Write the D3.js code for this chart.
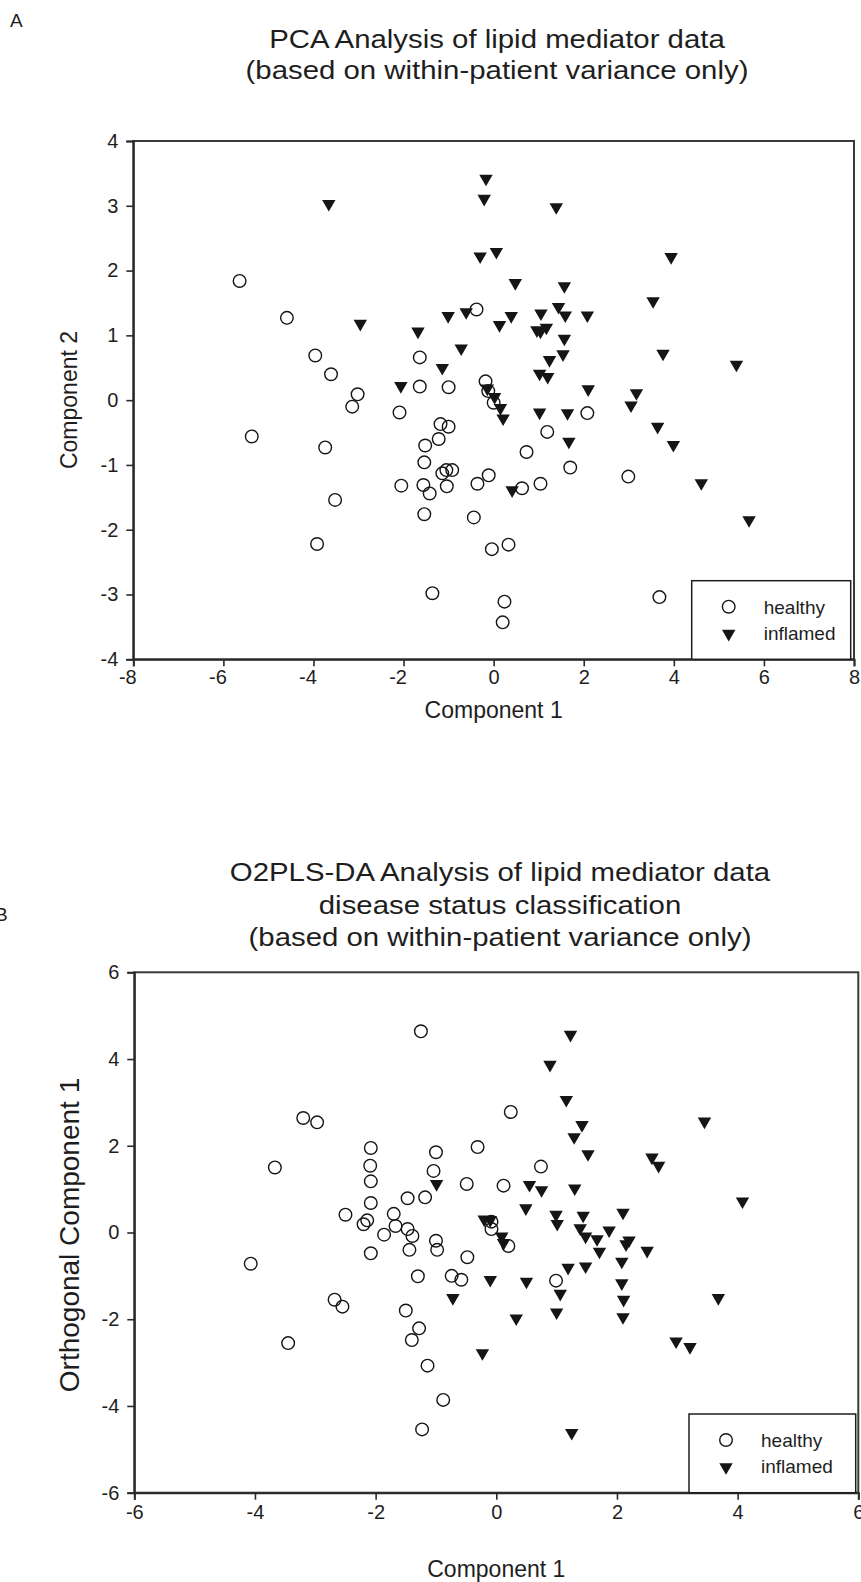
<!DOCTYPE html>
<html><head><meta charset="utf-8">
<script src="https://cdn.jsdelivr.net/npm/d3@7"></script>
<style>
body{margin:0;background:#fff}
svg{display:block}
text{font-family:"Liberation Sans",Arial,Helvetica,sans-serif;fill:#1e1e1e}
</style>
</head><body>
<svg id="c" width="861" height="1582"></svg>
<script>
// ---------- Panel A: PCA (Component 1 vs Component 2) ----------
const healthyA = [
 [-5.64,1.84],[-4.59,1.27],[-3.96,0.69],[-3.61,0.40],[-3.02,0.09],[-3.14,-0.10],[-5.37,-0.56],
 [-3.74,-0.73],[-3.52,-1.54],[-3.92,-2.22],[-1.64,0.66],[-1.64,0.21],[-1.00,0.20],[-2.09,-0.19],
 [-1.18,-0.37],[-1.00,-0.41],[-1.22,-0.60],[-1.52,-0.70],[-1.54,-0.96],[-1.05,-1.08],[-0.92,-1.08],
 [-1.14,-1.13],[-2.05,-1.32],[-1.56,-1.31],[-1.42,-1.44],[-1.04,-1.33],[-1.54,-1.76],[-1.36,-2.98],
 [-0.38,1.40],[-0.18,0.29],[-0.12,0.14],[0.00,-0.04],[2.08,-0.20],[1.19,-0.49],[0.73,-0.80],
 [1.70,-1.04],[-0.11,-1.16],[-0.36,-1.29],[0.63,-1.36],[1.04,-1.29],[2.99,-1.18],[-0.44,-1.81],
 [-0.04,-2.30],[0.33,-2.23],[0.24,-3.11],[0.20,-3.43],[3.68,-3.04]
];
const inflamedA = [
 [-3.66,3.03],[-2.96,1.18],[-1.68,1.06],[-1.01,1.30],[-1.14,0.50],[-2.06,0.22],[-0.72,0.80],
 [-0.17,3.42],[-0.21,3.11],[1.39,2.98],[-0.30,2.22],[0.06,2.29],[3.94,2.21],[0.48,1.81],
 [1.57,1.76],[3.54,1.53],[-0.61,1.36],[0.13,1.16],[0.39,1.30],[1.05,1.34],[1.44,1.44],
 [1.59,1.31],[2.08,1.31],[0.96,1.08],[1.04,1.06],[1.17,1.12],[1.57,0.95],[1.54,0.71],
 [1.24,0.62],[3.76,0.72],[5.39,0.55],[1.02,0.41],[1.20,0.36],[2.10,0.17],[3.17,0.11],
 [3.05,-0.08],[-0.14,0.18],[0.02,0.05],[0.15,-0.12],[0.21,-0.28],[1.02,-0.19],[1.64,-0.20],
 [3.64,-0.41],[1.67,-0.64],[3.99,-0.69],[0.41,-1.39],[4.61,-1.28],[5.67,-1.85]
];
const xTicksA = [-8,-6,-4,-2,0,2,4,6,8];
const yTicksA = [-4,-3,-2,-1,0,1,2,3,4];
const titleA = ["PCA Analysis of lipid mediator data","(based on within-patient variance only)"];

// ---------- Panel B: O2PLS-DA (Component 1 vs Orthogonal Component 1) ----------
const healthyB = [
 [-1.25,4.64],[-3.20,2.64],[-2.97,2.54],[-2.08,1.95],[-1.00,1.85],[-3.67,1.50],[-2.09,1.54],
 [-1.04,1.42],[-2.08,1.18],[-1.47,0.79],[-1.18,0.81],[-2.08,0.68],[-2.50,0.41],[-2.14,0.28],
 [-2.20,0.19],[-1.70,0.43],[-1.67,0.15],[-1.86,-0.05],[-1.47,0.08],[-1.39,-0.08],[-1.44,-0.40],
 [-2.08,-0.48],[-1.00,-0.19],[-0.98,-0.40],[-4.07,-0.72],[-1.30,-1.01],[-0.74,-1.00],[-0.58,-1.09],
 [-2.68,-1.55],[-2.55,-1.71],[-1.50,-1.80],[-3.45,-2.55],[-1.28,-2.21],[-1.40,-2.48],[-1.14,-3.07],
 [-0.88,-3.86],[-1.23,-4.54],[0.24,2.78],[-0.31,1.97],[0.74,1.52],[-0.49,1.12],[0.12,1.08],
 [-0.08,0.25],[-0.08,0.08],[0.20,-0.31],[-0.48,-0.57],[0.99,-1.11]
];
const inflamedB = [
 [1.23,4.56],[0.89,3.87],[1.16,3.06],[1.42,2.48],[1.29,2.20],[3.45,2.56],[1.52,1.81],
 [2.58,1.73],[2.69,1.54],[4.08,0.72],[0.55,1.10],[0.75,0.98],[1.30,1.02],[0.49,0.56],
 [0.99,0.41],[1.44,0.39],[2.10,0.46],[1.01,0.20],[1.39,0.10],[1.48,-0.09],[1.87,0.05],
 [1.67,-0.15],[2.20,-0.18],[2.15,-0.27],[1.71,-0.44],[2.50,-0.42],[2.08,-0.67],[1.19,-0.81],
 [1.48,-0.78],[2.08,-1.17],[2.11,-1.55],[2.10,-1.95],[1.06,-1.41],[1.00,-1.84],[-0.10,-1.09],
 [0.50,-1.13],[-0.72,-1.51],[0.33,-1.98],[3.68,-1.51],[2.98,-2.51],[3.21,-2.64],[-0.23,-2.78],
 [-0.20,0.30],[-0.10,0.29],[0.09,-0.09],[0.12,-0.24],[-0.99,1.12],[1.25,-4.62]
];
const xTicksB = [-6,-4,-2,0,2,4,6];
const yTicksB = [-6,-4,-2,0,2,4,6];
const titleB = ["O2PLS-DA Analysis of lipid mediator data","disease status classification","(based on within-patient variance only)"];

const legendLabels = ["healthy","inflamed"];

const svg = d3.select("#c");
const FONT_TICK = 20, FONT_LABEL = 23, FONT_TITLE = 26, TITLE_SX = 1.13, FONT_LEG = 19;
const triSym = d3.symbol().type(d3.symbolTriangle).size(78);
const circR = 6.3;

function panel(o){
  const x = d3.scaleLinear().domain(o.xd).range([o.left,o.right]);
  const y = d3.scaleLinear().domain(o.yd).range([o.bottom,o.top]);
  const g = svg.append("g");

  // titles (slightly wide lettering, as in the original figure)
  o.title.forEach((t,i)=>{
    g.append("text")
     .attr("transform",`translate(${o.titleX},${o.titleY + i*o.titleGap}) scale(${TITLE_SX},1)`)
     .attr("text-anchor","middle").attr("font-size",FONT_TITLE).text(t);
  });
  g.append("text").attr("x",o.letterX).attr("y",o.letterY).attr("font-size",19).text(o.letter);

  // frame
  g.append("rect").attr("x",o.left).attr("y",o.top)
   .attr("width",o.right-o.left).attr("height",o.bottom-o.top)
   .attr("fill","none").attr("stroke","#3a3a3a").attr("stroke-width",2);

  // axes
  const ax = g.append("g").attr("transform",`translate(0,${o.bottom})`)
    .call(d3.axisBottom(x).tickValues(o.xt).tickSize(7).tickPadding(o.xPad).tickFormat(d3.format("d")));
  const ay = g.append("g").attr("transform",`translate(${o.left},0)`)
    .call(d3.axisLeft(y).tickValues(o.yt).tickSize(7).tickPadding(8).tickFormat(d3.format("d")));
  [ax,ay].forEach(a=>{
    a.select(".domain").attr("stroke","#2a2a2a").attr("stroke-width",2);
    a.selectAll(".tick line").attr("stroke","#2a2a2a").attr("stroke-width",1.6);
    a.selectAll(".tick text").attr("font-size",FONT_TICK).attr("fill","#1e1e1e")
      .attr("font-family","Liberation Sans, Arial, sans-serif")
      .text(d=>d<0?"-"+Math.abs(d):d);
  });
  ax.selectAll(".tick text").attr("dx",d=>d<0?o.negDx:0);

  // axis labels
  g.append("text").attr("x",(o.left+o.right)/2).attr("y",o.xLabelY)
   .attr("text-anchor","middle").attr("font-size",FONT_LABEL).text(o.xLabel);
  g.append("text").attr("transform",`translate(${o.yLabelX},${o.yLabelY}) rotate(-90)`)
   .attr("text-anchor","middle").attr("font-size",o.yLabelFont).text(o.yLabel);

  // points
  g.append("g").selectAll("path").data(o.inflamed).join("path")
   .attr("d",triSym).attr("transform",d=>`translate(${x(d[0])},${y(d[1])}) rotate(180)`)
   .attr("fill","#151515");
  g.append("g").selectAll("circle").data(o.healthy).join("circle")
   .attr("cx",d=>x(d[0])).attr("cy",d=>y(d[1])).attr("r",circR)
   .attr("fill","none").attr("stroke","#151515").attr("stroke-width",1.4);

  // legend
  const L = o.legend;
  g.append("rect").attr("x",L.x).attr("y",L.y).attr("width",L.w).attr("height",o.bottom-L.y)
   .attr("fill","#fff").attr("stroke","#1e1e1e").attr("stroke-width",1.5);
  g.append("circle").attr("cx",L.x+37).attr("cy",L.y+26).attr("r",circR)
   .attr("fill","none").attr("stroke","#151515").attr("stroke-width",1.4);
  g.append("path").attr("d",triSym).attr("transform",`translate(${L.x+37},${L.y+53}) rotate(180)`).attr("fill","#151515");
  legendLabels.forEach((t,i)=>{
    g.append("text").attr("x",L.x+72).attr("y",L.y+33+i*26).attr("font-size",FONT_LEG).text(t);
  });
}

panel({
  left:133.3,right:854,top:141,bottom:659.3,xd:[-8,8],yd:[-4,4],xt:xTicksA,yt:yTicksA,xPad:4,negDx:-6,
  healthy:healthyA,inflamed:inflamedA,title:titleA,titleX:497,titleY:48,titleGap:30.5,
  letter:"A",letterX:10,letterY:27,
  xLabel:"Component 1",xLabelY:718,yLabel:"Component 2",yLabelX:77,yLabelY:400,yLabelFont:23,
  legend:{x:691.7,y:580.7,w:159}
});
panel({
  left:134.3,right:858.3,top:972.3,bottom:1492.7,xd:[-6,6],yd:[-6,6],xt:xTicksB,yt:yTicksB,xPad:5,negDx:0,
  healthy:healthyB,inflamed:inflamedB,title:titleB,titleX:500,titleY:881,titleGap:32.5,
  letter:"B",letterX:-5,letterY:921,
  xLabel:"Component 1",xLabelY:1577,yLabel:"Orthogonal Component 1",yLabelX:79,yLabelY:1235,yLabelFont:28,
  legend:{x:689,y:1414,w:166.7}
});
</script>
</body></html>
